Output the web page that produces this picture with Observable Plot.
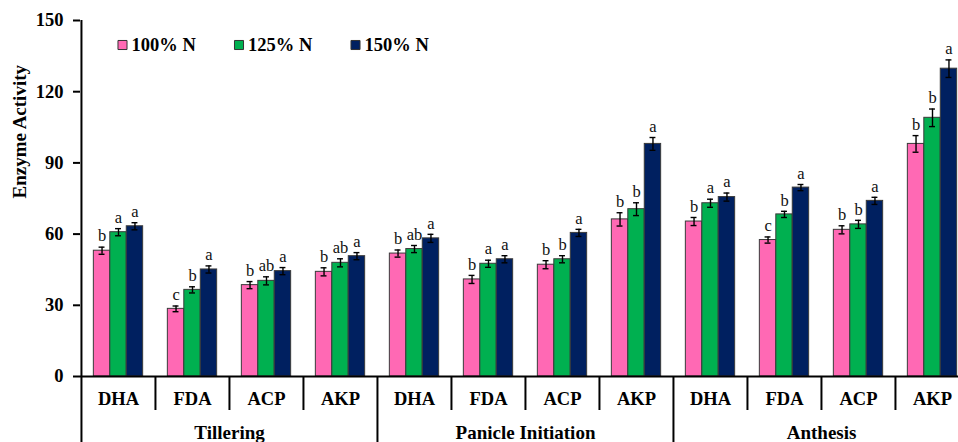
<!DOCTYPE html>
<html>
<head>
<meta charset="utf-8">
<script src="https://cdn.jsdelivr.net/npm/d3@7"></script>
<script src="https://cdn.jsdelivr.net/npm/@observablehq/plot@0.6"></script>
<style>
  html, body { margin: 0; padding: 0; background: #fff; overflow: hidden; }
  #chart svg { display: block; overflow: hidden; }
</style>
</head>
<body>
<div id="chart"></div>
<script>
// Growth stages and enzymes (x categories)
const stages = ["Tillering", "Panicle Initiation", "Anthesis"];
const enzymes = ["DHA", "FDA", "ACP", "AKP"];

// Nitrogen levels (series)
const series = ["100% N", "125% N", "150% N"];
const colors = ["#ff69b4", "#00b050", "#002060"];

// Mean enzyme activity, ordered stage by stage: DHA, FDA, ACP, AKP
const n100 = [53.0, 28.5, 38.5, 44.1,  51.8, 40.9, 47.1, 66.2,  65.3, 57.5, 61.8, 98.0];
const n125 = [60.8, 36.5, 40.3, 47.9,  53.7, 47.5, 49.4, 70.5,  73.0, 68.3, 64.1, 109.0];
const n150 = [63.3, 45.1, 44.4, 50.7,  58.2, 49.4, 60.5, 98.0,  75.6, 79.6, 74.0, 129.7];

// Standard errors
const se100 = [1.5, 1.2, 1.5, 1.7,  1.5, 1.7, 1.7, 2.8,  1.7, 1.3, 1.7, 3.5];
const se125 = [1.5, 1.3, 1.7, 1.7,  1.5, 1.5, 1.5, 2.7,  1.7, 1.3, 1.7, 3.7];
const se150 = [1.5, 1.5, 1.5, 1.5,  1.7, 1.5, 1.5, 2.7,  1.7, 1.3, 1.5, 3.7];

// Significance letters
const sig100 = ["b", "c", "b", "b",   "b", "b", "b", "b",  "b", "c", "b", "b"];
const sig125 = ["a", "b", "ab", "ab", "ab", "a", "b", "b", "a", "b", "b", "b"];
const sig150 = ["a", "a", "a", "a",   "a", "a", "a", "a",  "a", "a", "a", "a"];

const yTicks = [0, 30, 60, 90, 120, 150];

// ---- table built from the arrays above ----
const values = [n100, n125, n150];
const errors = [se100, se125, se150];
const letters = [sig100, sig125, sig150];

const keys = [];
stages.forEach(s => enzymes.forEach(e => keys.push(`${s}|${e}`)));

const rows = [];
keys.forEach((key, j) => {
  series.forEach((name, k) => {
    rows.push({key, series: name, k, value: values[k][j], err: errors[k][j], letter: letters[k][j]});
  });
});

// ---- layout ----
const W = 958, H = 442;
const ML = 80, MR = -11, MT = 20, MB = 66;
const bw = (W - ML - MR) / keys.length;     // width of one enzyme slot
const barW = bw * 2 / 9;                    // three bars fill two thirds of a slot
const ppu = (H - MT - MB) / 150;            // pixels per unit of activity
const cap = 3;

const marks = [];

series.forEach((name, k) => {
  const data = rows.filter(d => d.k === k);
  const left = bw / 2 - 1.5 * barW + k * barW;
  const right = bw - left - barW;
  const center = left + barW / 2;
  const off = center - bw / 2;
  marks.push(
    Plot.barY(data, {x: "key", y: "value", fill: colors[k], stroke: "#3a3a3a", strokeWidth: 1,
      insetLeft: left, insetRight: right}),
    Plot.ruleX(data, {x: "key", y1: d => d.value - d.err, y2: d => d.value + d.err, dx: off,
      stroke: "#000", strokeWidth: 1.4}),
    Plot.tickY(data, {x: "key", y: d => d.value + d.err, insetLeft: center - cap, insetRight: bw - center - cap,
      stroke: "#000", strokeWidth: 1.4}),
    Plot.tickY(data, {x: "key", y: d => d.value - d.err, insetLeft: center - cap, insetRight: bw - center - cap,
      stroke: "#000", strokeWidth: 1.4}),
    Plot.text(data, {x: "key", y: d => d.value + d.err, text: "letter", dx: off, dy: -11,
      fontSize: 16.5, fontWeight: "normal", fill: "#111"})
  );
  // legend entry
  marks.push(
    Plot.dot([name], {frameAnchor: "top-left", dx: 42 + k * 116.5, dy: 24.5, symbol: "square",
      r: 5.1, fill: colors[k], stroke: "#333", strokeWidth: 1}),
    Plot.text([name], {frameAnchor: "top-left", text: d => d, dx: 51 + k * 116.5, dy: 24.5,
      textAnchor: "start", lineAnchor: "middle", fontSize: 18.5, fontWeight: "bold"})
  );
});

// separators below the axis: long ones between stages, short ones between enzymes
const seps = keys.map((key, j) => ({
  key,
  y1: (j % 4 === 0 ? -MB : -34) / ppu,
  y2: j === 0 ? 150 : 0
}));

marks.push(
  Plot.ruleY([0], {stroke: "#000", strokeWidth: 2}),
  Plot.ruleX(seps, {x: "key", y1: "y1", y2: "y2", dx: -bw / 2, stroke: "#000", strokeWidth: 2}),
  Plot.axisY({ticks: yTicks, tickSize: 7, tickPadding: 10, fontSize: 18.5, fontWeight: "bold",
    strokeWidth: 2, label: null}),
  Plot.axisX({tickSize: 0, tickPadding: 15, fontSize: 18.5, fontWeight: "bold",
    tickFormat: k => k.split("|")[1], label: null}),
  Plot.text(stages, {x: s => `${s}|FDA`, y: () => 0, text: d => d, dx: bw / 2, dy: 56,
    fontSize: 19, fontWeight: "bold"}),
  Plot.text(["Enzyme Activity"], {frameAnchor: "left", text: d => d, rotate: -90, dx: -61,
    fontSize: 19, fontWeight: "bold"})
);

const chart = Plot.plot({
  width: W,
  height: H,
  marginLeft: ML,
  marginRight: MR,
  marginTop: MT,
  marginBottom: MB,
  style: {fontFamily: "'Liberation Serif', 'Times New Roman', serif", color: "#000", background: "#fff"},
  x: {domain: keys, padding: 0},
  y: {domain: [0, 150]},
  marks
});

document.getElementById("chart").appendChild(chart);
</script>
</body>
</html>
